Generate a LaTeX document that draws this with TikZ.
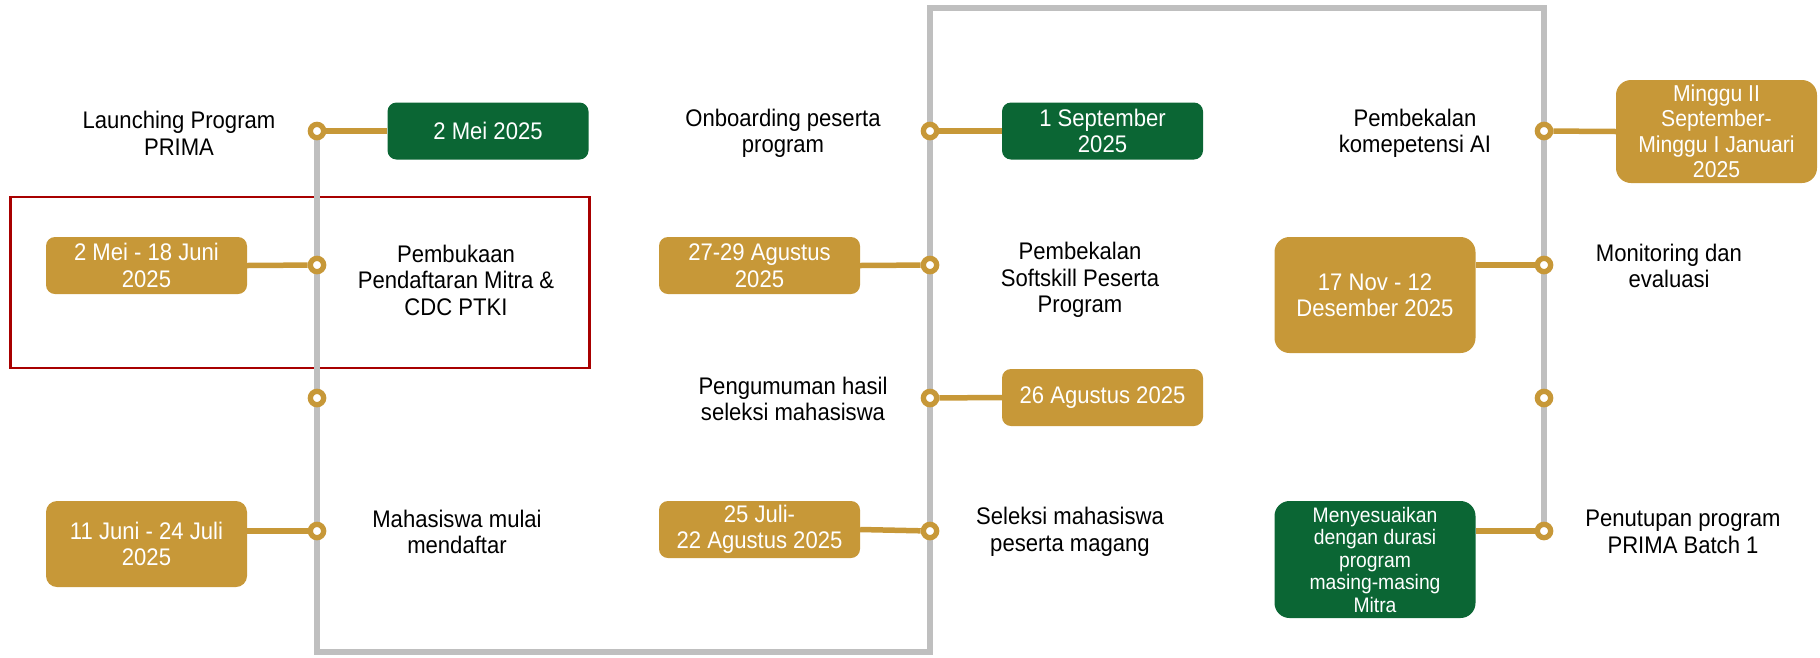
\documentclass[tikz,border=0pt]{standalone}
\usepackage{fontspec}
\setmainfont{Liberation Sans}[FakeStretch=0.92]
\usetikzlibrary{backgrounds}
\definecolor{pgreen}{HTML}{0B6634}
\definecolor{pgold}{HTML}{C79838}
\definecolor{pgray}{HTML}{BFBFBF}
\definecolor{pred}{HTML}{A80000}
\begin{document}
\begin{tikzpicture}[x=1pt,y=-1pt,
  datebox/.style={rounded corners=9pt, text=white, align=center, inner sep=0pt,
    minimum width=201pt, minimum height=57pt, font=\fontsize{24}{26.5}\selectfont},
  goldbox/.style={datebox, fill=pgold},
  greenbox/.style={datebox, fill=pgreen},
  bigbox/.style={rounded corners=15pt},
  lbl/.style={align=center, text=black, inner sep=0pt, font=\fontsize{24}{26.5}\selectfont},
  dot/.style={circle, draw=pgold, fill=white, line width=5.3pt, minimum size=13.3pt, inner sep=0pt},
  track/.style={draw=pgray, line width=6pt},
  link/.style={draw=pgold, line width=5.5pt},
  hilite/.style={draw=pred, line width=2.3pt, minimum width=579pt, minimum height=171pt, inner sep=0pt}]
\useasboundingbox (0,0) rectangle (1820,657);

% dots
\node[dot] (d11) at (317,131) {};
\node[dot] (d12) at (317,265) {};
\node[dot] (d13) at (317,398) {};
\node[dot] (d14) at (317,531) {};
\node[dot] (d21) at (930,131) {};
\node[dot] (d22) at (930,265) {};
\node[dot] (d23) at (930,398) {};
\node[dot] (d24) at (930,531) {};
\node[dot] (d31) at (1544,131) {};
\node[dot] (d32) at (1544,265) {};
\node[dot] (d33) at (1544,398) {};
\node[dot] (d34) at (1544,531) {};

% boxes
\node[greenbox] (b1) at (488,131) {2 Mei 2025};
\node[goldbox] (b2) at (146.5,265.5) {2 Mei - 18 Juni\\2025};
\node[goldbox, minimum height=86pt, rounded corners=11pt] (b3) at (146.5,544) {11 Juni - 24 Juli\\2025};
\node[greenbox] (b4) at (1102.5,131) {1 September\\2025};
\node[goldbox] (b5) at (759.5,265.5) {27-29 Agustus\\2025};
\node[goldbox] (b6) at (1102.5,397.5) {26 Agustus 2025};
\node[goldbox] (b7) at (759.5,529.5) {25 Juli-\\22 Agustus 2025};
\node[goldbox, bigbox, minimum height=103pt, font=\fontsize{23}{25.5}\selectfont] (b8) at (1716.5,131.5) {Minggu II\\September-\\Minggu I Januari\\2025};
\node[goldbox, bigbox, minimum height=116pt] (b9) at (1375,295) {17 Nov - 12\\Desember 2025};
\node[greenbox, bigbox, minimum height=117pt, font=\fontsize{21}{22.5}\selectfont] (b10) at (1375,559.5) {Menyesuaikan\\dengan durasi\\program\\masing-masing\\Mitra};

% labels
\node[lbl] (l1) at (179,133.5) {Launching Program\\PRIMA};
\node[lbl] (l2) at (456,280) {Pembukaan\\Pendaftaran Mitra \&\\CDC PTKI};
\node[lbl] (l3) at (457,532) {Mahasiswa mulai\\mendaftar};
\node[lbl] (l4) at (783,133.5) {Onboarding peserta\\program};
\node[lbl] (l5) at (1080,280) {Pembekalan\\Softskill Peserta\\Program};
\node[lbl] (l6) at (793,399) {Pengumuman hasil\\seleksi mahasiswa};
\node[lbl] (l7) at (1070,532) {Seleksi mahasiswa\\peserta magang};
\node[lbl] (l8) at (1415,133.5) {Pembekalan\\komepetensi AI};
\node[lbl] (l9) at (1669,266) {Monitoring dan\\evaluasi};
\node[lbl] (l10) at (1683,532) {Penutupan program\\PRIMA Batch 1};

\coordinate (bl) at (317,652);
\coordinate (br) at (930,652);
\coordinate (tl) at (930,8);
\coordinate (tr) at (1544,8);

\begin{scope}[on background layer]
  \node[hilite] (hl) at (300,282.5) {};
  \draw[track] (d11.center) -- (bl) -- (br) -- (tl) -- (tr) -- (d34.center);
  \draw[link] (d11) -- (b1.west);
  \draw[link] (d12) -- (b2.east);
  \draw[link] (d14) -- (d14 -| b3.east);
  \draw[link] (d21) -- (b4.west);
  \draw[link] (d22) -- (b5.east);
  \draw[link] (d23) -- (b6.west);
  \draw[link] (d24) -- (b7.east);
  \draw[link] (d31) -- (b8.west);
  \draw[link] (d32) -- (d32 -| b9.east);
  \draw[link] (d34) -- (d34 -| b10.east);
\end{scope}
\end{tikzpicture}
\end{document}
